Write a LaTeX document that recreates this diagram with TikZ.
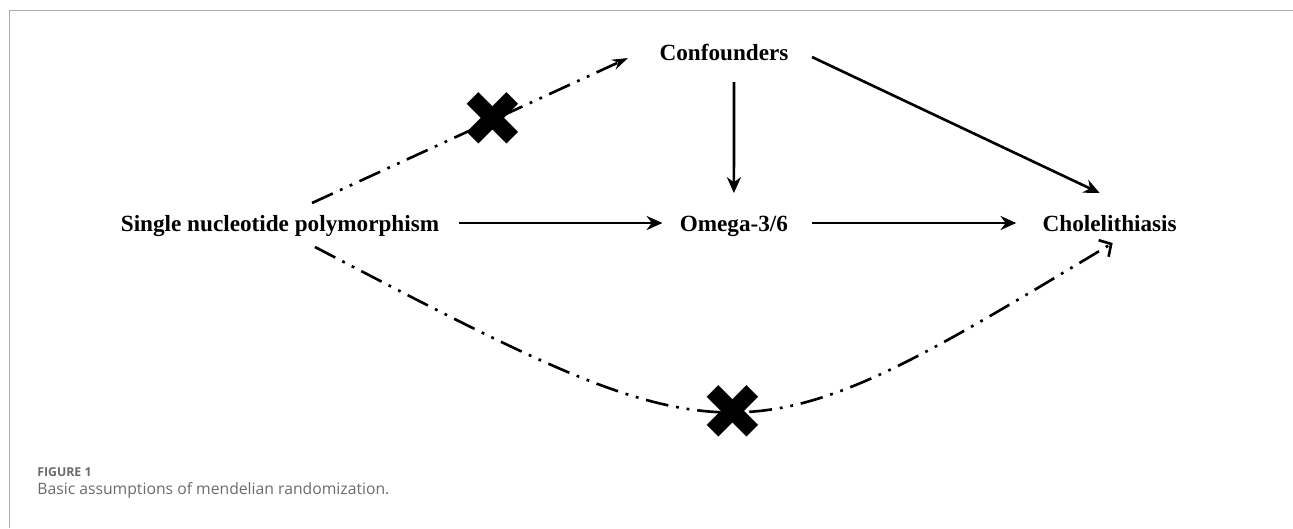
\documentclass[tikz,border=0pt]{standalone}
\usepackage{fontspec}
\setmainfont{Liberation Serif}
\newfontfamily\capfont{Open Sans}
\newfontfamily\symfont{DejaVu Sans}
\usetikzlibrary{positioning, arrows.meta}

\definecolor{framegray}{HTML}{ABABAB}
\definecolor{capgray}{HTML}{6B6B6B}

\tikzset{
  var/.style={font=\bfseries\fontsize{13.2}{16}\selectfont, inner sep=0pt,
    text height=10pt, text depth=3pt},
  cause/.style={line width=1.5pt, -{Stealth[length=9pt, width=8pt]}},
  broken/.style={line width=1.5pt,
    dash pattern=on 13pt off 4.5pt on 1.6pt off 4.5pt on 1.6pt off 4.5pt},
  xmark/.style={font=\symfont\fontsize{44}{44}\selectfont, inner sep=0pt},
  caption/.style={font=\capfont, text=capgray, inner sep=0pt, anchor=base west}
}

\begin{document}
\begin{tikzpicture}[x=0.02cm, y=-0.02cm]
  \useasboundingbox (0,0) rectangle (1293,528);
  % panel frame
  \draw[framegray, line width=0.7pt] (9.5,528) -- (9.5,10.5) -- (1293,10.5);

  \node[var] (snp) at (280,225) {Single nucleotide polymorphism};
  \node[var] (omega) [right=4.8cm of snp] {Omega-3/6};
  \node[var] (chole) [right=5.08cm of omega] {Cholelithiasis};
  \node[var] (conf) at (724,54) {Confounders};

  \draw[cause] ([shift={(20,-2)}]snp.east) -- ([shift={(-17,-2)}]omega.west);
  \draw[cause] ([shift={(24,-2)}]omega.east) -- ([shift={(-26,-2)}]chole.west);
  \draw[cause] ([shift={(10,28)}]conf.center) -- ([shift={(0,-32)}]omega.center);
  \draw[cause] ([shift={(88,3)}]conf.center) -- ([shift={(-10,-32)}]chole.center);

  % pathways that are ruled out
  \draw[broken, -{Stealth[length=9pt, width=6pt]}]
    ([shift={(32,-22)}]snp.center) -- ([shift={(-96,4)}]conf.center)
    node[xmark, pos=.573] (cut1) {✖};
  \draw[broken, -{Straight Barb[length=5pt, width=11pt]}]
    ([shift={(35,22)}]snp.center) .. controls (739,468) and (739,468) ..
    ([shift={(3,18)}]chole.center)
    node[xmark, pos=.5] (cut2) {✖};

  \node[caption, font=\capfont\bfseries\fontsize{7}{9}\selectfont] (figno) at (37,476) {FIGURE 1};
  \node[caption, font=\capfont\fontsize{8.95}{11}\selectfont] (captext) at (37,494)
    {Basic assumptions of mendelian randomization.};
\end{tikzpicture}
\end{document}
